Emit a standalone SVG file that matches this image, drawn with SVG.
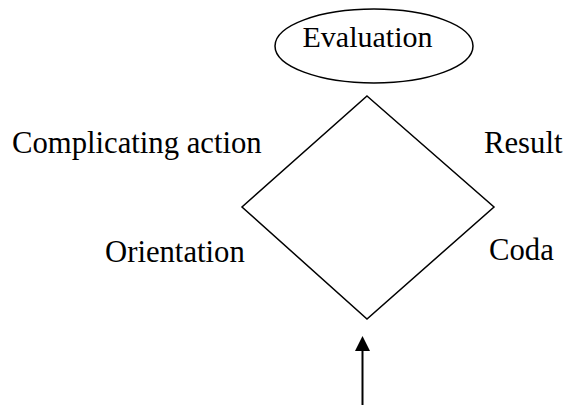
<svg xmlns="http://www.w3.org/2000/svg" width="566" height="405" viewBox="0 0 566 405">
  <style>
    .lbl { font-family: "Liberation Serif", "Times New Roman", serif; font-size: 30px; fill: #000; }
    .side { font-size: 30.7px; }
    .shape { fill: #fff; stroke: #000; stroke-width: 1.5; }
    .conn { stroke: #000; stroke-width: 2; fill: none; }
  </style>
  <rect width="566" height="405" fill="#fff"/>
  <g id="evaluation">
    <ellipse class="shape" cx="374" cy="46" rx="99" ry="37"/>
    <text class="lbl" x="367.5" y="47" text-anchor="middle">Evaluation</text>
  </g>
  <g id="diamond">
    <polygon class="shape" points="367,96 494,207 367,319 242,207"/>
  </g>
  <g id="complicating-action">
    <text class="lbl side" x="12" y="153">Complicating action</text>
  </g>
  <g id="orientation">
    <text class="lbl side" x="105" y="262">Orientation</text>
  </g>
  <g id="result">
    <text class="lbl side" x="484" y="153">Result</text>
  </g>
  <g id="coda">
    <text class="lbl side" x="489" y="260">Coda</text>
  </g>
  <g id="connectors">
    <line class="conn" x1="362.5" y1="405" x2="362.5" y2="350"/>
    <polygon points="362.5,336 355,351 370,351" fill="#000"/>
  </g>
</svg>
